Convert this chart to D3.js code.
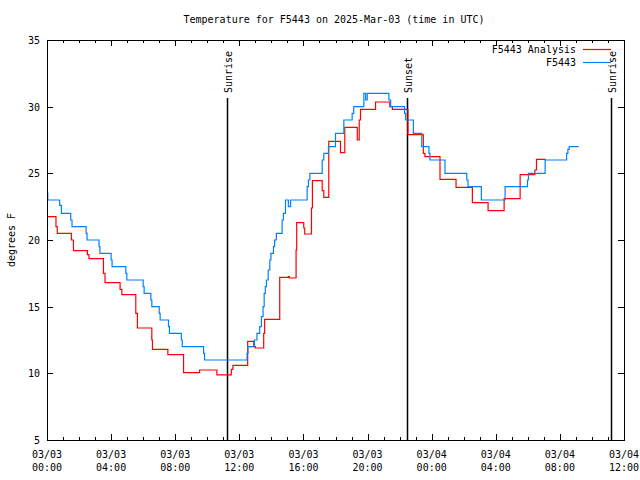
<!DOCTYPE html>
<html>
<head>
<meta charset="utf-8">
<script src="https://cdn.jsdelivr.net/npm/d3@7"></script>
<style>
  body { margin: 0; background: #fff; }
  svg text { font-family: "DejaVu Sans Mono", "Liberation Mono", monospace; font-size: 10px; fill: #000; }
</style>
</head>
<body>
<svg id="chart" width="640" height="480"></svg>
<script>
// ---- data (hours since 2025-03-03 00:00 UTC, degrees F), step-after series ----
const obsHours = [0.00, 0.05, 0.79, 0.90, 1.48, 1.56, 2.44, 2.50, 3.25, 3.30, 4.00, 4.06, 4.92, 4.98, 6.00, 6.06, 6.48, 6.54, 7.00, 7.06, 7.58, 7.64, 8.38, 8.44, 9.77, 9.83,
  12.48, 12.54, 12.94, 13.10, 13.27, 13.38, 13.48, 13.55, 13.62, 13.69, 13.80, 13.90, 13.97, 14.13, 14.20, 14.31, 14.67, 14.75, 14.88, 15.06, 15.20,
  16.23, 16.31, 16.40, 16.56, 17.17, 17.27, 17.56, 18.00, 18.52, 19.04, 19.14, 19.77, 19.88, 19.98, 21.33, 21.44, 22.31, 22.38, 22.86, 23.38, 23.83, 23.89,
  24.83, 26.19, 26.27, 27.10, 28.58, 29.98, 30.04, 31.08, 32.42, 32.50, 32.58, 33.17];
const obsTemps = [23.5, 23.0, 22.6, 22.0, 21.5, 21.0, 20.5, 20.0, 19.5, 19.0, 18.5, 18.0, 17.5, 17.0, 16.5, 16.0, 15.5, 15.0, 14.5, 14.0, 13.5, 13.0, 12.5, 12.0, 11.5, 11.0,
  11.5, 12.0, 12.5, 13.0, 13.5, 14.25, 15.0, 16.0, 16.5, 17.0, 17.75, 18.5, 19.0, 19.5, 20.0, 20.5, 21.5, 22.0, 23.0, 22.5, 23.0,
  24.0, 24.5, 25.0, 25.0, 26.0, 26.5, 27.0, 28.0, 29.0, 29.5, 30.0, 31.0, 30.5, 31.0, 30.5, 30.0, 29.5, 29.0, 28.0, 27.0, 26.5, 26.0,
  25.0, 24.5, 24.0, 23.0, 24.0, 24.5, 25.0, 26.0, 26.5, 26.8, 27.0, 27.0];

const anaHours = [0.00, 0.56, 0.64, 1.52, 1.65, 2.52, 2.62, 3.52, 3.62, 4.56, 4.67, 5.54, 5.64, 6.54, 6.58, 7.54, 8.52, 9.52, 10.60, 11.50, 11.60,
  12.52, 12.90, 13.00, 13.52, 13.58, 14.52, 14.60, 15.05, 15.12, 15.54, 15.58, 16.02, 16.08, 16.50, 16.56, 17.17, 17.27, 17.58, 18.31, 18.58,
  19.36, 19.48, 19.56, 20.50, 21.39, 21.55, 22.52, 23.48, 23.58, 24.52, 25.52, 26.54, 27.52, 28.52, 29.52, 30.44, 30.54, 31.12];
const anaTemps = [21.75, 21.0, 20.5, 20.0, 19.2, 18.9, 18.6, 17.5, 16.8, 16.3, 15.9, 14.5, 13.4, 12.5, 11.8, 11.4, 10.05, 10.25, 9.88, 10.3, 10.6,
  12.4, 12.0, 11.9, 13.0, 14.05, 17.2, 17.2, 17.25, 17.15, 19.25, 21.3, 20.9, 20.45, 22.4, 24.45, 23.7, 23.2, 27.4, 26.55, 28.45,
  27.5, 29.0, 29.8, 30.35, 30.0, 29.8, 27.9, 26.5, 26.25, 24.55, 23.95, 22.8, 22.2, 23.1, 24.9, 25.25, 26.05, 26.05];

const xTickHours = [0, 4, 8, 12, 16, 20, 24, 28, 32, 36];
const xTickLabels = [["03/03", "00:00"], ["03/03", "04:00"], ["03/03", "08:00"], ["03/03", "12:00"], ["03/03", "16:00"],
  ["03/03", "20:00"], ["03/04", "00:00"], ["03/04", "04:00"], ["03/04", "08:00"], ["03/04", "12:00"]];
const yTicks = [5, 10, 15, 20, 25, 30, 35];
const eventHours = [11.25, 22.44, 35.19];
const eventLabels = ["Sunrise", "Sunset", "Sunrise"];
const seriesNames = ["F5443 Analysis", "F5443"];
const seriesColors = ["#ff0000", "#0080ff"];
const titleText = "Temperature for F5443 on 2025-Mar-03 (time in UTC)";
const yLabel = "degrees F";

// ---- layout ----
const svg = d3.select("#chart");
const L = 47, R = 624, T = 40, B = 440;
const base = Date.UTC(2025, 2, 3, 0, 0);
const toDate = h => new Date(base + h * 3600000);

const x = d3.scaleUtc().domain([toDate(0), toDate(36)]).range([L, R]);
const y = d3.scaleLinear().domain([5, 35]).range([B, T]);

// title
svg.append("text").attr("x", 334).attr("y", 23).attr("text-anchor", "middle").text(titleText);
// y label
svg.append("text").attr("transform", "translate(15,240) rotate(-90)").attr("text-anchor", "middle").text(yLabel);

// x ticks (minor every hour, major every 4h), bottom and top, inward
const minorHours = d3.range(0, 37, 1);
const tickG = svg.append("g").attr("stroke", "#000").attr("stroke-width", 1).attr("shape-rendering", "crispEdges");
minorHours.forEach(h => {
  const len = (h % 4 === 0) ? 6 : 3;
  const xx = Math.round(x(toDate(h))) + 0.5;
  tickG.append("line").attr("x1", xx).attr("x2", xx).attr("y1", B).attr("y2", B - len);
  tickG.append("line").attr("x1", xx).attr("x2", xx).attr("y1", T).attr("y2", T + len);
});
// y ticks left and right
yTicks.forEach(v => {
  const yy = Math.round(y(v)) + 0.5;
  tickG.append("line").attr("x1", L).attr("x2", L + 6).attr("y1", yy).attr("y2", yy);
  tickG.append("line").attr("x1", R).attr("x2", R - 6).attr("y1", yy).attr("y2", yy);
});

// tick labels
xTickHours.forEach((h, i) => {
  const xx = x(toDate(h));
  svg.append("text").attr("x", xx).attr("y", 458).attr("text-anchor", "middle").text(xTickLabels[i][0]);
  svg.append("text").attr("x", xx).attr("y", 471).attr("text-anchor", "middle").text(xTickLabels[i][1]);
});
yTicks.forEach(v => {
  svg.append("text").attr("x", 40).attr("y", y(v) + 4).attr("text-anchor", "end").text(v);
});

// sunrise / sunset lines
eventHours.forEach((h, i) => {
  const xx = Math.round(x(toDate(h))) + 0.5;
  svg.append("line").attr("x1", xx).attr("x2", xx).attr("y1", 98).attr("y2", B)
    .attr("stroke", "#000").attr("stroke-width", 1.5);
  svg.append("text").attr("transform", `translate(${xx + 4},93) rotate(-90)`).attr("text-anchor", "start").text(eventLabels[i]);
});

// series
const line = d3.line().curve(d3.curveStepAfter).x(d => x(toDate(d[0]))).y(d => y(d[1]));
const anaData = anaHours.map((h, i) => [h, anaTemps[i]]);
const obsData = obsHours.map((h, i) => [h, obsTemps[i]]);
svg.append("path").datum(anaData).attr("d", line).attr("fill", "none").attr("stroke", seriesColors[0]).attr("stroke-width", 1.2);
svg.append("path").datum(obsData).attr("d", line).attr("fill", "none").attr("stroke", seriesColors[1]).attr("stroke-width", 1.2);

// frame
svg.append("rect").attr("x", L + 0.5).attr("y", T + 0.5).attr("width", R - L).attr("height", B - T)
  .attr("fill", "none").attr("stroke", "#000").attr("stroke-width", 1).attr("shape-rendering", "crispEdges");

// legend
seriesNames.forEach((n, i) => {
  const yy = 53 + i * 13;
  svg.append("text").attr("x", 576).attr("y", yy).attr("text-anchor", "end").text(n);
  svg.append("line").attr("x1", 583).attr("x2", 611).attr("y1", yy - 3.5).attr("y2", yy - 3.5)
    .attr("stroke", seriesColors[i]).attr("stroke-width", 1.2);
});
</script>
</body>
</html>
